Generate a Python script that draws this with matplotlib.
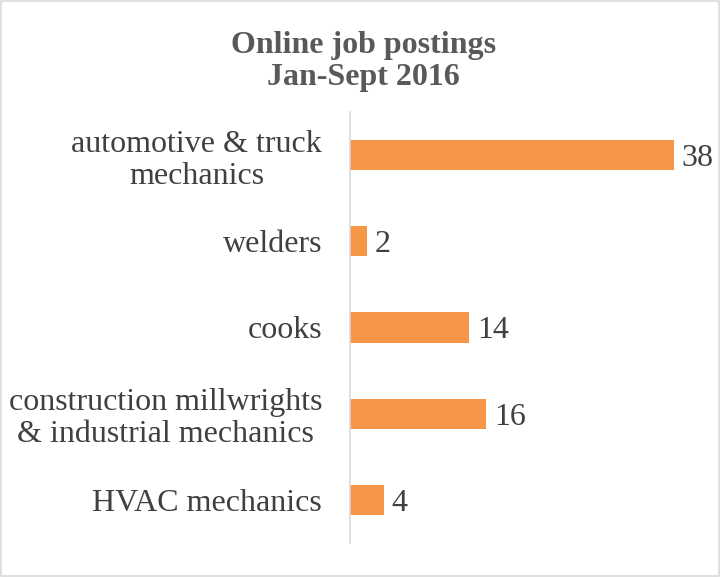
import matplotlib.pyplot as plt
from matplotlib.patches import Rectangle

# data, top to bottom as shown
jobs = ["automotive & truck\nmechanics", "welders", "cooks",
        "construction millwrights\n& industrial mechanics", "HVAC mechanics"]
postings = [38, 2, 14, 16, 4]

plt.rcParams['font.family'] = ['Liberation Serif', 'DejaVu Serif']

fig = plt.figure(figsize=(7.2, 5.77), dpi=100)
ax = fig.add_axes([0.486, 0.059, 0.474, 0.747])

pos = list(range(len(jobs)))
bars = ax.barh(pos, postings, height=0.35, color="#F79646")
ax.set_ylim(len(jobs) - 0.5, -0.5)
ax.set_xlim(0, 40)

for b, v in zip(bars, postings):
    ax.text(b.get_width() + 0.9, b.get_y() + b.get_height() / 2, str(v),
            va="center_baseline", ha="left", fontsize=23, color="#404040")

ax.set_yticks(pos)
ax.set_yticklabels(jobs, fontsize=23, color="#404040", linespacing=1.15,
                   multialignment="center")
ax.tick_params(axis="y", length=0, pad=20)
ax.set_xticks([])
for side in ["top", "right", "bottom"]:
    ax.spines[side].set_visible(False)
ax.spines["left"].set_color("#D9D9D9")
ax.spines["left"].set_linewidth(1.2)

fig.text(0.505, 0.893, "Online job postings\nJan-Sept 2016", ha="center", va="center",
         fontsize=23, fontweight="bold", color="#595959", linespacing=1.15)

# chart border
fig.patches.append(Rectangle((0.002, 0.002), 0.996, 0.996, transform=fig.transFigure,
                             fill=False, edgecolor="#D9D9D9", linewidth=1.2))

fig.savefig("out.png", dpi=100)
